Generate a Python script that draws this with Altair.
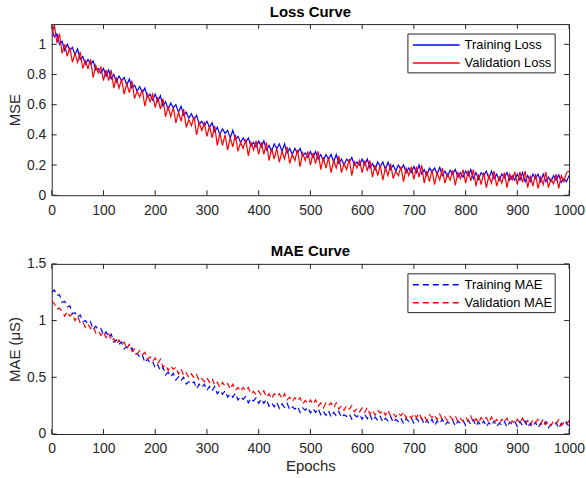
import altair as alt
import pandas as pd

epochs = list(range(0, 1001, 5))

train_loss = [
    1.10, 1.05, 1.07, 1.00, 1.02, 0.96, 1.00, 0.96, 0.98, 0.93,
    0.97, 0.90, 0.92, 0.87, 0.90, 0.87, 0.89, 0.83, 0.84, 0.81,
    0.84, 0.79, 0.83, 0.77, 0.80, 0.75, 0.79, 0.76, 0.78, 0.73,
    0.77, 0.71, 0.73, 0.69, 0.72, 0.68, 0.71, 0.65, 0.67, 0.63,
    0.67, 0.62, 0.66, 0.59, 0.62, 0.57, 0.61, 0.58, 0.60, 0.55,
    0.59, 0.53, 0.55, 0.51, 0.54, 0.50, 0.53, 0.47, 0.49, 0.46,
    0.49, 0.45, 0.48, 0.42, 0.45, 0.40, 0.44, 0.41, 0.43, 0.38,
    0.43, 0.37, 0.39, 0.35, 0.38, 0.35, 0.38, 0.325, 0.35, 0.32,
    0.36, 0.32, 0.36, 0.30, 0.33, 0.29, 0.34, 0.31, 0.34, 0.29,
    0.34, 0.28, 0.31, 0.27, 0.31, 0.28, 0.31, 0.26, 0.28, 0.25,
    0.29, 0.25, 0.29, 0.24, 0.27, 0.23, 0.27, 0.24, 0.27, 0.22,
    0.27, 0.21, 0.24, 0.20, 0.24, 0.22, 0.25, 0.20, 0.22, 0.20,
    0.24, 0.20, 0.24, 0.18, 0.21, 0.17, 0.22, 0.19, 0.22, 0.17,
    0.22, 0.17, 0.20, 0.16, 0.20, 0.17, 0.20, 0.15, 0.18, 0.15,
    0.19, 0.15, 0.20, 0.14, 0.17, 0.13, 0.18, 0.155, 0.18, 0.14,
    0.185, 0.13, 0.16, 0.125, 0.165, 0.14, 0.17, 0.12, 0.15, 0.12,
    0.16, 0.13, 0.17, 0.11, 0.15, 0.105, 0.15, 0.13, 0.16, 0.11,
    0.16, 0.11, 0.14, 0.10, 0.14, 0.115, 0.15, 0.10, 0.13, 0.10,
    0.14, 0.10, 0.15, 0.09, 0.13, 0.09, 0.14, 0.11, 0.14, 0.09,
    0.14, 0.09, 0.12, 0.09, 0.13, 0.10, 0.135, 0.085, 0.11, 0.09,
    0.13,
]

val_loss = [
    1.05, 1.13, 1.01, 1.07, 0.94, 1.00, 0.92, 0.98, 0.88, 0.94,
    0.88, 0.95, 0.84, 0.89, 0.84, 0.90, 0.78, 0.86, 0.81, 0.85,
    0.76, 0.83, 0.76, 0.83, 0.71, 0.78, 0.71, 0.77, 0.67, 0.74,
    0.68, 0.76, 0.64, 0.69, 0.65, 0.70, 0.59, 0.67, 0.62, 0.67,
    0.58, 0.65, 0.57, 0.64, 0.52, 0.59, 0.52, 0.58, 0.48, 0.55,
    0.49, 0.57, 0.45, 0.50, 0.46, 0.52, 0.40, 0.48, 0.43, 0.48,
    0.39, 0.46, 0.38, 0.46, 0.33, 0.41, 0.33, 0.40, 0.30, 0.38,
    0.32, 0.40, 0.29, 0.35, 0.31, 0.37, 0.26, 0.35, 0.30, 0.36,
    0.27, 0.35, 0.27, 0.35, 0.23, 0.31, 0.24, 0.31, 0.22, 0.29,
    0.24, 0.32, 0.21, 0.27, 0.23, 0.30, 0.19, 0.28, 0.23, 0.29,
    0.20, 0.28, 0.21, 0.29, 0.17, 0.25, 0.18, 0.25, 0.15, 0.23,
    0.18, 0.26, 0.15, 0.21, 0.17, 0.24, 0.13, 0.22, 0.18, 0.23,
    0.15, 0.23, 0.16, 0.23, 0.12, 0.20, 0.13, 0.20, 0.10, 0.18,
    0.13, 0.21, 0.11, 0.16, 0.13, 0.19, 0.09, 0.18, 0.13, 0.19,
    0.105, 0.19, 0.12, 0.20, 0.08, 0.16, 0.09, 0.17, 0.07, 0.15,
    0.10, 0.18, 0.08, 0.14, 0.10, 0.165, 0.065, 0.15, 0.11, 0.17,
    0.08, 0.165, 0.095, 0.17, 0.06, 0.14, 0.07, 0.15, 0.05, 0.13,
    0.08, 0.16, 0.06, 0.12, 0.08, 0.15, 0.05, 0.14, 0.10, 0.155,
    0.07, 0.155, 0.085, 0.16, 0.05, 0.13, 0.06, 0.14, 0.045, 0.12,
    0.07, 0.155, 0.05, 0.11, 0.075, 0.14, 0.045, 0.13, 0.09, 0.15,
    0.16,
]

train_mae = [
    1.25, 1.27, 1.22, 1.23, 1.16, 1.17, 1.12, 1.13, 1.06, 1.07,
    1.03, 1.05, 0.99, 1.00, 0.97, 0.99, 0.92, 0.95, 0.92, 0.93,
    0.87, 0.90, 0.85, 0.88, 0.81, 0.83, 0.79, 0.81, 0.75, 0.77,
    0.74, 0.76, 0.70, 0.71, 0.68, 0.70, 0.63, 0.66, 0.63, 0.64,
    0.58, 0.61, 0.56, 0.59, 0.52, 0.545, 0.505, 0.535, 0.475, 0.505,
    0.47, 0.50, 0.44, 0.46, 0.44, 0.46, 0.40, 0.44, 0.41, 0.44,
    0.385, 0.42, 0.38, 0.42, 0.355, 0.385, 0.35, 0.38, 0.325, 0.355,
    0.325, 0.36, 0.30, 0.33, 0.305, 0.33, 0.275, 0.315, 0.29, 0.32,
    0.27, 0.31, 0.27, 0.305, 0.245, 0.275, 0.24, 0.28, 0.225, 0.265,
    0.235, 0.27, 0.215, 0.24, 0.22, 0.245, 0.19, 0.23, 0.21, 0.235,
    0.185, 0.225, 0.19, 0.225, 0.17, 0.20, 0.165, 0.205, 0.15, 0.19,
    0.16, 0.20, 0.145, 0.17, 0.155, 0.18, 0.13, 0.17, 0.15, 0.175,
    0.13, 0.175, 0.135, 0.175, 0.115, 0.15, 0.12, 0.155, 0.105, 0.14,
    0.115, 0.155, 0.10, 0.13, 0.11, 0.14, 0.09, 0.135, 0.11, 0.14,
    0.095, 0.14, 0.105, 0.14, 0.085, 0.12, 0.09, 0.13, 0.075, 0.115,
    0.09, 0.13, 0.08, 0.105, 0.09, 0.12, 0.07, 0.115, 0.095, 0.12,
    0.075, 0.12, 0.085, 0.125, 0.07, 0.105, 0.075, 0.115, 0.065, 0.10,
    0.075, 0.115, 0.065, 0.095, 0.08, 0.11, 0.06, 0.105, 0.085, 0.11,
    0.065, 0.11, 0.075, 0.115, 0.06, 0.095, 0.065, 0.105, 0.055, 0.095,
    0.07, 0.11, 0.055, 0.085, 0.07, 0.10, 0.05, 0.095, 0.075, 0.105,
    0.06,
]

val_mae = [
    1.17, 1.15, 1.10, 1.11, 1.08, 1.04, 1.08, 1.04, 1.06, 1.00,
    1.04, 0.98, 0.99, 0.94, 0.97, 0.93, 0.95, 0.89, 0.91, 0.87,
    0.90, 0.85, 0.89, 0.82, 0.84, 0.79, 0.83, 0.79, 0.81, 0.75,
    0.79, 0.73, 0.75, 0.705, 0.735, 0.70, 0.72, 0.66, 0.68, 0.64,
    0.67, 0.62, 0.66, 0.59, 0.61, 0.56, 0.60, 0.57, 0.59, 0.53,
    0.575, 0.515, 0.54, 0.495, 0.53, 0.495, 0.525, 0.47, 0.49, 0.46,
    0.495, 0.455, 0.49, 0.43, 0.455, 0.41, 0.455, 0.42, 0.445, 0.395,
    0.44, 0.385, 0.41, 0.375, 0.41, 0.38, 0.41, 0.355, 0.375, 0.345,
    0.38, 0.34, 0.38, 0.325, 0.355, 0.31, 0.355, 0.33, 0.355, 0.31,
    0.355, 0.30, 0.325, 0.285, 0.32, 0.29, 0.32, 0.265, 0.295, 0.265,
    0.30, 0.26, 0.30, 0.245, 0.275, 0.23, 0.275, 0.25, 0.275, 0.23,
    0.275, 0.22, 0.25, 0.21, 0.25, 0.22, 0.25, 0.195, 0.225, 0.195,
    0.23, 0.19, 0.235, 0.175, 0.21, 0.165, 0.21, 0.185, 0.21, 0.165,
    0.21, 0.16, 0.185, 0.15, 0.185, 0.16, 0.195, 0.14, 0.17, 0.14,
    0.18, 0.145, 0.185, 0.13, 0.16, 0.12, 0.17, 0.145, 0.17, 0.125,
    0.175, 0.125, 0.15, 0.115, 0.155, 0.125, 0.16, 0.11, 0.14, 0.11,
    0.15, 0.115, 0.16, 0.10, 0.135, 0.095, 0.145, 0.12, 0.145, 0.10,
    0.15, 0.10, 0.13, 0.09, 0.13, 0.105, 0.14, 0.09, 0.115, 0.09,
    0.13, 0.095, 0.14, 0.085, 0.12, 0.075, 0.125, 0.10, 0.13, 0.085,
    0.135, 0.085, 0.11, 0.075, 0.115, 0.09, 0.125, 0.075, 0.105, 0.08,
    0.12,
]

loss_labels = ["Training Loss", "Validation Loss"]
mae_labels = ["Training MAE", "Validation MAE"]
series_colors = ["#0000FF", "#FF0000"]
x_ticks = [0, 100, 200, 300, 400, 500, 600, 700, 800, 900, 1000]
loss_y_ticks = [0, 0.2, 0.4, 0.6, 0.8, 1.0]
mae_y_ticks = [0, 0.5, 1.0, 1.5]

FONT = "Liberation Sans"
AX = "#262626"
W = 520


def panel(a, b, labels, title, y_title, x_title, y_dom, y_ticks, H, dash, title_offset):
    n = len(epochs)
    df = pd.DataFrame({
        "epoch": epochs + epochs,
        "value": a + b,
        "series": [labels[0]] * n + [labels[1]] * n,
    })
    xs = alt.Scale(domain=[0, 1000], nice=False, zero=False)
    ys = alt.Scale(domain=y_dom, nice=False, zero=False)
    line_kw = dict(clip=True, strokeWidth=1.2)
    if dash:
        line_kw["strokeDash"] = [6, 4]
    xaxis = alt.Axis(values=x_ticks, format="~f", labelFlush=False, labelOverlap=False,
                     ticks=False, domain=False, grid=False, labelPadding=8,
                     title=x_title if x_title else None, titlePadding=3)
    yaxis = alt.Axis(values=y_ticks, format="~f", labelFlush=False, labelOverlap=False,
                     ticks=False, domain=False, grid=False, labelPadding=6,
                     title=y_title, titlePadding=4)
    lines = alt.Chart(df).mark_line(**line_kw).encode(
        x=alt.X("epoch:Q", scale=xs, axis=xaxis),
        y=alt.Y("value:Q", scale=ys, axis=yaxis),
        color=alt.Color("series:N", scale=alt.Scale(domain=labels, range=series_colors),
                        legend=None),
    )
    xt = pd.DataFrame({"t": x_ticks})
    yt = pd.DataFrame({"t": y_ticks})
    rule_kw = dict(color=AX, strokeWidth=1)
    tick_bot = alt.Chart(xt).mark_rule(**rule_kw).encode(
        x=alt.X("t:Q", scale=xs, axis=xaxis), y=alt.value(H), y2=alt.value(H - 5))
    tick_top = alt.Chart(xt).mark_rule(**rule_kw).encode(
        x=alt.X("t:Q", scale=xs, axis=xaxis), y=alt.value(0), y2=alt.value(5))
    tick_left = alt.Chart(yt).mark_rule(**rule_kw).encode(
        y=alt.Y("t:Q", scale=ys, axis=yaxis), x=alt.value(0), x2=alt.value(5))
    tick_right = alt.Chart(yt).mark_rule(**rule_kw).encode(
        y=alt.Y("t:Q", scale=ys, axis=yaxis), x=alt.value(W), x2=alt.value(W - 5))

    # legend box (MATLAB style, inside top-right)
    one = pd.DataFrame({"k": [0]})
    box = alt.Chart(one).mark_rect(fill="white", stroke=AX, strokeWidth=1).encode(
        x=alt.value(358), x2=alt.value(506), y=alt.value(10), y2=alt.value(49))
    leg_layers = [box]
    sym_kw = dict(strokeWidth=1.5)
    if dash:
        sym_kw["strokeDash"] = [6, 4]
    for i, (lab, col) in enumerate(zip(labels, series_colors)):
        yy = 21 + 18 * i
        leg_layers.append(alt.Chart(one).mark_rule(color=col, **sym_kw).encode(
            x=alt.value(363), x2=alt.value(410), y=alt.value(yy)))
        leg_layers.append(alt.Chart(one).mark_text(
            text=lab, align="left", baseline="middle", font=FONT, fontSize=13,
            color="#000000").encode(x=alt.value(415), y=alt.value(yy)))

    return alt.layer(lines, tick_bot, tick_top, tick_left, tick_right,
                     *leg_layers).properties(
        width=W, height=H,
        title=alt.Title(title, fontSize=15, fontWeight="bold", font=FONT,
                        color="#000000", offset=title_offset, frame="group"),
    )


top = panel(train_loss, val_loss, loss_labels, "Loss Curve", "MSE", "",
            [0, 1.134], loss_y_ticks, 172, False, 4)
bottom = panel(train_mae, val_mae, mae_labels, "MAE Curve", "MAE (μS)", "Epochs",
               [0, 1.5], mae_y_ticks, 171, True, -2)

chart = alt.vconcat(top, bottom, spacing=25).resolve_scale(
    x="independent", y="independent", color="independent"
).properties(
    padding={"left": 7, "top": 3, "right": 0, "bottom": 0},
    background="white",
).configure_view(
    stroke=AX, strokeWidth=1
).configure_axis(
    labelFont=FONT, labelFontSize=14, labelColor=AX,
    titleFont=FONT, titleFontSize=15, titleColor=AX, titleFontWeight="normal",
)

chart.save("out.html", embed_options={"renderer": "svg", "actions": False})
